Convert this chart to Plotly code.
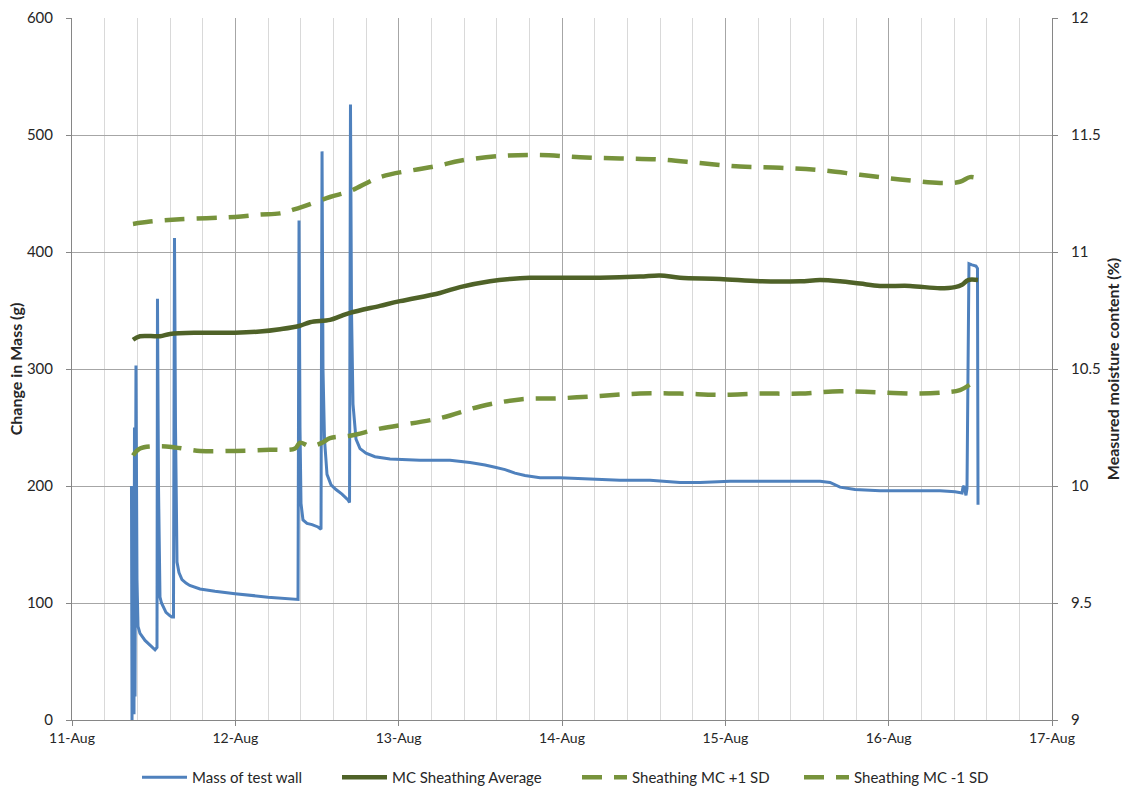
import plotly.graph_objects as go

# x values are hours since 11-Aug 00:00
day_labels = ["11-Aug", "12-Aug", "13-Aug", "14-Aug", "15-Aug", "16-Aug", "17-Aug"]

# Mass of test wall (change in mass, g)
mass_hours = [8.74, 8.82, 8.96, 9.11, 9.18, 9.26, 9.40, 9.55, 9.70, 9.99, 10.73, 11.46, 12.20, 12.49,
              12.56, 12.71, 12.93, 13.15, 13.37, 13.81, 14.40, 14.69, 14.91,
              15.06, 15.21, 15.43, 15.72, 16.16, 16.75, 17.30, 18.81, 21.00, 23.95, 28.80, 33.21,
              33.36, 33.50, 33.65, 33.94, 34.53, 35.27, 36.15, 36.59,
              36.74, 36.88, 37.10, 37.47, 38.06, 38.79, 39.67, 40.56, 40.78,
              40.92, 41.07, 41.29, 41.73, 42.32, 43.20, 44.52, 46.73, 51.14, 55.54, 58.48,
              60.69, 62.16, 63.63, 65.09, 66.56, 68.77, 71.71, 76.12, 80.52, 84.93, 89.34,
              92.28, 96.69, 101.09, 105.50, 109.91, 111.38, 112.85, 115.05, 118.73, 123.14,
              127.54, 129.75, 130.78, 130.92, 131.07, 131.36, 131.51, 131.66, 131.80,
              132.24, 132.83, 133.05, 133.13]
mass_vals = [200, 0, 150, 5, 250, 20, 303, 120, 80, 74, 68, 64, 60, 62,
             360, 200, 105, 100, 97, 92, 89, 88, 88,
             412, 250, 135, 126, 120, 117, 115, 112, 110, 108, 105, 103,
             427, 250, 185, 171, 168, 167, 165, 163,
             486, 300, 240, 210, 201, 197, 193, 188, 186,
             526, 350, 270, 240, 232, 228, 225, 223, 222, 222, 220,
             218, 216, 214, 211, 209, 207, 207, 206, 205, 205, 203,
             203, 204, 204, 204, 204, 203, 199, 197, 196, 196,
             196, 195, 194, 199, 200, 192, 198, 300, 390,
             389, 388, 386, 184]

# MC sheathing average (%)
avg_hours = [8.96, 9.99, 12.93, 14.40, 18.81, 23.95, 27.62, 30.56, 33.50, 34.97, 37.91, 39.38,
             40.85, 45.26, 48.20, 54.07, 57.01, 61.42, 64.36, 67.30, 71.71, 77.58, 83.46, 86.40,
             89.34, 95.22, 101.09, 106.97, 109.91, 112.85, 115.79, 118.73, 123.14, 127.54,
             129.75, 130.78, 131.66, 133.13]
avg_vals = [10.625, 10.64, 10.64, 10.65, 10.655, 10.655, 10.66, 10.67, 10.685, 10.70, 10.71, 10.725,
            10.74, 10.77, 10.79, 10.825, 10.85, 10.875, 10.885, 10.89, 10.89, 10.89, 10.895, 10.90,
            10.89, 10.885, 10.875, 10.875, 10.88, 10.875, 10.865, 10.855, 10.855, 10.845,
            10.85, 10.86, 10.88, 10.88]

# Sheathing MC +1 SD (%)
p1_hours = [8.96, 11.46, 15.87, 23.95, 27.62, 30.56, 33.50, 37.91, 40.85, 45.26, 51.14, 54.07,
            57.01, 62.89, 68.77, 74.65, 80.52, 86.40, 92.28, 98.16, 104.03, 109.91, 115.79,
            121.67, 127.54, 130.48, 131.95, 133.13]
p1_vals = [11.12, 11.13, 11.14, 11.15, 11.16, 11.165, 11.19, 11.235, 11.26, 11.32, 11.355, 11.37,
           11.39, 11.41, 11.415, 11.405, 11.40, 11.395, 11.38, 11.365, 11.36, 11.35, 11.33,
           11.31, 11.295, 11.30, 11.32, 11.315]

# Sheathing MC -1 SD (%)
m1_hours = [8.96, 9.99, 12.93, 15.13, 18.81, 23.95, 29.09, 32.77, 33.50, 34.97, 36.74, 37.91,
            40.85, 45.26, 54.07, 59.95, 65.83, 71.71, 77.58, 83.46, 89.34, 95.22, 101.09,
            106.97, 112.85, 118.73, 124.60, 128.28, 130.48, 132.24]
m1_vals = [10.13, 10.16, 10.17, 10.165, 10.15, 10.15, 10.155, 10.16, 10.185, 10.17, 10.185, 10.205,
           10.215, 10.245, 10.29, 10.34, 10.37, 10.375, 10.385, 10.395, 10.395, 10.39, 10.395,
           10.395, 10.405, 10.40, 10.395, 10.40, 10.41, 10.44]


def to_days(hours):
    return [h / 24.0 for h in hours]


FONT = "Lato, 'Open Sans', sans-serif"
TXT = "#262626"
AX = "#868686"

fig = go.Figure()
fig.add_trace(go.Scatter(x=to_days(mass_hours), y=mass_vals, mode="lines",
                         name="Mass of test wall", legend="legend",
                         line=dict(color="#4f81bd", width=3)))
fig.add_trace(go.Scatter(x=to_days(avg_hours), y=avg_vals, mode="lines", yaxis="y2",
                         name="MC Sheathing Average", legend="legend2",
                         line=dict(color="#4f6228", width=4.5, shape="spline")))
fig.add_trace(go.Scatter(x=to_days(p1_hours), y=p1_vals, mode="lines", yaxis="y2",
                         name="Sheathing MC +1 SD", legend="legend3",
                         line=dict(color="#77933c", width=4.5, dash="20px,12px", shape="spline")))
fig.add_trace(go.Scatter(x=to_days(m1_hours), y=m1_vals, mode="lines", yaxis="y2",
                         name="Sheathing MC -1 SD", legend="legend4",
                         line=dict(color="#77933c", width=4.5, dash="20px,12px", shape="spline")))


def leg(xpx):
    return dict(orientation="h", x=(xpx - 72) / 980.0, xanchor="left",
                y=-0.082, yanchor="middle", font=dict(size=15, color=TXT),
                itemwidth=45, bgcolor="rgba(0,0,0,0)")


fig.update_layout(
    width=1124, height=788,
    margin=dict(l=72, r=72, t=18, b=68, autoexpand=False),
    paper_bgcolor="white", plot_bgcolor="white",
    font=dict(family=FONT, size=13, color=TXT),
    showlegend=True,
    legend=leg(137), legend2=leg(337), legend3=leg(577), legend4=leg(799),
    xaxis=dict(
        range=[0, 6], tickmode="array", tickvals=list(range(7)), ticktext=day_labels,
        showgrid=True, gridcolor="#a6a6a6", gridwidth=1,
        minor=dict(tick0=0, dtick=0.2, showgrid=True, gridcolor="#d9d9d9", gridwidth=1),
        ticks="outside", ticklen=5, tickcolor=AX,
        showline=True, linecolor=AX, linewidth=1,
        zeroline=False, tickfont=dict(size=14, color=TXT), automargin=False,
    ),
    yaxis=dict(
        range=[0, 600], dtick=100,
        showgrid=True, gridcolor="#a6a6a6", gridwidth=1,
        ticks="outside", ticklen=5, tickcolor=AX,
        showline=True, linecolor=AX, linewidth=1, ticklabelstandoff=10,
        zeroline=False, tickfont=dict(size=15, color=TXT), automargin=False,
        title=dict(text="<b>Change in Mass (g)</b>", font=dict(size=16, color=TXT), standoff=0),
    ),
    yaxis2=dict(
        range=[9, 12], dtick=0.5, overlaying="y", side="right",
        showgrid=False,
        ticks="outside", ticklen=5, tickcolor=AX,
        showline=True, linecolor=AX, linewidth=1, ticklabelstandoff=10,
        zeroline=False, tickfont=dict(size=15, color=TXT), automargin=False,
        title=dict(text="<b>Measured moisture content (%)</b>", font=dict(size=16, color=TXT), standoff=8),
    ),
)

fig.write_html("out.html", config={"displayModeBar": False},
               post_script="document.body.style.margin='0';")
